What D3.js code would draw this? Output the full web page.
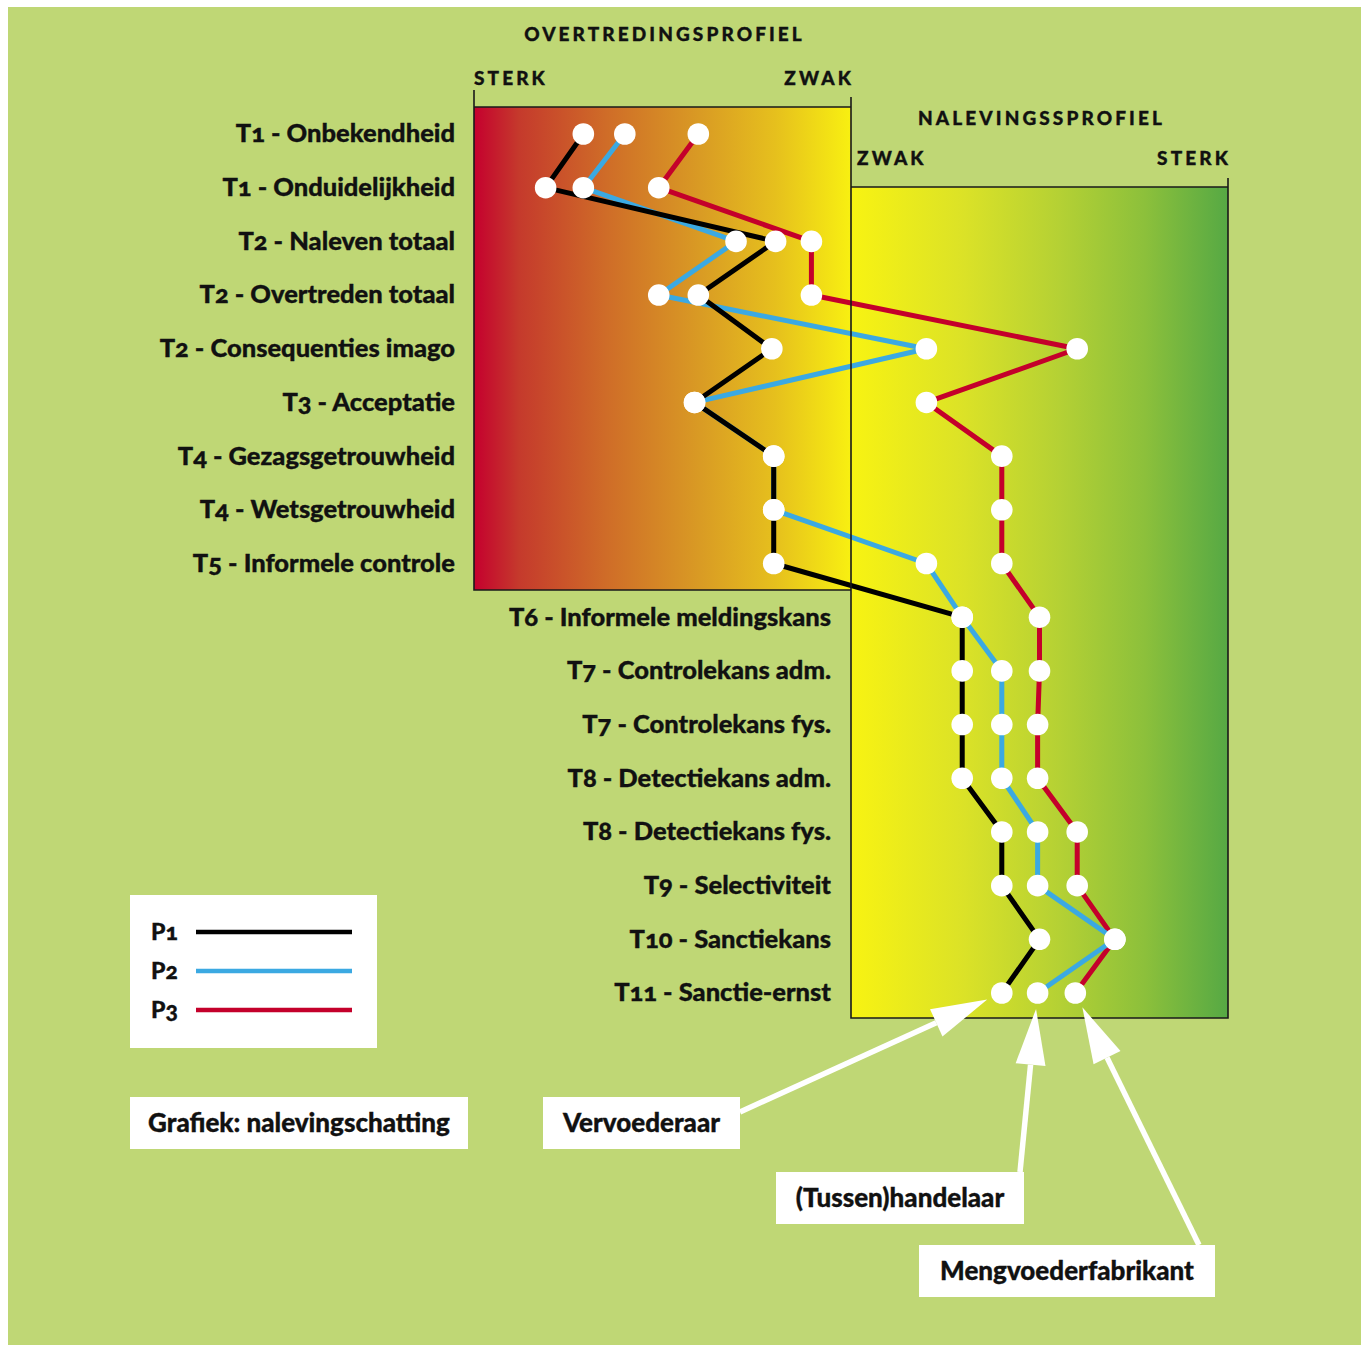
<!DOCTYPE html>
<html>
<head>
<meta charset="utf-8">
<script src="https://cdn.jsdelivr.net/npm/d3@7"></script>
<style>
  body { margin: 0; background: #fff; }
  text { font-family: Lato, "Open Sans", sans-serif; font-weight: 900; fill: #111; stroke: #111; stroke-width: 0.35px; font-variant-numeric: oldstyle-nums; }
</style>
</head>
<body>
<div id="chart"></div>
<script>
// rows of the profile, top to bottom
const rowLabels = [
  "T1 - Onbekendheid", "T1 - Onduidelijkheid", "T2 - Naleven totaal", "T2 - Overtreden totaal",
  "T2 - Consequenties imago", "T3 - Acceptatie", "T4 - Gezagsgetrouwheid", "T4 - Wetsgetrouwheid",
  "T5 - Informele controle", "T6 - Informele meldingskans", "T7 - Controlekans adm.",
  "T7 - Controlekans fys.", "T8 - Detectiekans adm.", "T8 - Detectiekans fys.",
  "T9 - Selectiviteit", "T10 - Sanctiekans", "T11 - Sanctie-ernst"
];
// first 9 rows sit in the overtredingsprofiel, the rest in the nalevingsprofiel
const leftRowCount = 9;

// scores on a 0-20 scale (0 = sterk overtreden ... 20 = sterk naleven)
const p1Values = [2.9, 1.9, 8.0, 5.95, 7.9, 5.85, 7.95, 7.95, 7.95, 12.95, 12.95, 12.95, 12.95, 14.0, 14.0, 15.0, 14.0];
const p2Values = [4.0, 2.9, 6.95, 4.9, 12.0, 5.85, 7.95, 7.95, 12.0, 12.95, 14.0, 14.0, 14.0, 14.95, 14.95, 17.0, 14.95];
const p3Values = [5.95, 4.9, 8.95, 8.95, 16.0, 12.0, 14.0, 14.0, 14.0, 15.0, 15.0, 14.95, 14.95, 16.0, 16.0, 17.0, 15.95];

const seriesNames = ["P1", "P2", "P3"];
const annotationLabels = ["Vervoederaar", "(Tussen)handelaar", "Mengvoederfabrikant"];

const colors = ["#000000", "#3ba9e2", "#c4002b"];

const W = 1361, H = 1345;
const svg = d3.select('#chart').append('svg')
  .attr('width', W)
  .attr('height', H);

const defs = svg.append('defs');
const gradLeft = defs.append('linearGradient').attr('id', 'gradLeft');
[["0%", "#c5002e"], ["12%", "#c53a2c"], ["35%", "#cf6c28"], ["60%", "#d99b24"], ["80%", "#e6c01d"], ["100%", "#f8f011"]]
  .forEach(s => gradLeft.append('stop').attr('offset', s[0]).attr('stop-color', s[1]));
const gradRight = defs.append('linearGradient').attr('id', 'gradRight');
[["0%", "#f8f312"], ["30%", "#dbe227"], ["55%", "#b5d134"], ["78%", "#8cc03b"], ["100%", "#56a944"]]
  .forEach(s => gradRight.append('stop').attr('offset', s[0]).attr('stop-color', s[1]));

// background
svg.append('rect')
  .attr('x', 8).attr('y', 7)
  .attr('width', W - 8).attr('height', H - 7)
  .attr('fill', '#bfd775');

const x = d3.scaleLinear().domain([0, 20]).range([474, 1228]);
const y = d3.scalePoint().domain(rowLabels).range([134, 993]);

const xMid = x(10);
const leftTop = 107, leftBottom = 590;
const rightTop = 187, rightBottom = 1018;

// gradient boxes
svg.append('rect')
  .attr('x', x(0)).attr('y', leftTop)
  .attr('width', xMid - x(0)).attr('height', leftBottom - leftTop)
  .attr('fill', 'url(#gradLeft)');
svg.append('rect')
  .attr('x', xMid).attr('y', rightTop)
  .attr('width', x(20) - xMid).attr('height', rightBottom - rightTop)
  .attr('fill', 'url(#gradRight)');

// lines
const series = [p1Values, p2Values, p3Values];
const line = d3.line()
  .x((d, i) => x(d))
  .y((d, i) => y(rowLabels[i]));

// draw P3 first so black ends on top
[2, 1, 0].forEach(s => {
  svg.append('path')
    .attr('d', line(series[s]))
    .attr('fill', 'none')
    .attr('stroke', colors[s])
    .attr('stroke-width', 5)
    .attr('stroke-linejoin', 'round');
});

// frame lines
const frame = svg.append('g')
  .attr('stroke', '#1a1a1a')
  .attr('stroke-width', 1.6)
  .attr('fill', 'none');
frame.append('path')
  .attr('d', `M${x(0)},90 V${leftBottom} H${xMid} M${x(0)},${leftTop} H${xMid} M${xMid},97 V${rightBottom} H${x(20)} V178 M${xMid},${rightTop} H${x(20)}`);

// dots
series.forEach((vals, s) => {
  svg.selectAll(null)
    .data(vals)
    .join('circle')
    .attr('cx', d => x(d))
    .attr('cy', (d, i) => y(rowLabels[i]))
    .attr('r', 10.8)
    .attr('fill', '#fff');
});

// row labels
svg.selectAll('.rowlabel')
  .data(rowLabels)
  .join('text')
  .attr('class', 'rowlabel')
  .attr('x', (d, i) => i < leftRowCount ? 455 : 831)
  .attr('y', d => y(d))
  .attr('dy', '0.33em')
  .attr('text-anchor', 'end')
  .style('font-size', '25.5px')
  .text(d => d);

// headings
const heading = (txt, xx, yy, anchor) => svg.append('text')
  .attr('x', xx).attr('y', yy)
  .attr('text-anchor', anchor)
  .style('font-size', '19px')
  .style('letter-spacing', '3.1px')
  .text(txt);
heading("OVERTREDINGSPROFIEL", (x(0) + xMid) / 2 + 2, 41, 'middle');
heading("STERK", x(0), 85, 'start');
heading("ZWAK", xMid + 3, 85, 'end');
heading("NALEVINGSSPROFIEL", (xMid + x(20)) / 2 + 2, 125, 'middle');
heading("ZWAK", xMid + 6, 165, 'start');
heading("STERK", x(20) + 3, 165, 'end');

// legend
svg.append('rect')
  .attr('x', 130).attr('y', 895)
  .attr('width', 247).attr('height', 153)
  .attr('fill', '#fff');
const legendY = d3.scalePoint().domain(seriesNames).range([932, 1010]);
seriesNames.forEach((name, s) => {
  svg.append('line')
    .attr('x1', 196).attr('x2', 352)
    .attr('y1', legendY(name)).attr('y2', legendY(name))
    .attr('stroke', colors[s])
    .attr('stroke-width', 4.5);
  svg.append('text')
    .attr('x', 151).attr('y', legendY(name))
    .attr('dy', '0.36em')
    .style('font-size', '23px')
    .text(name);
});

// caption box
svg.append('rect')
  .attr('x', 130).attr('y', 1097)
  .attr('width', 338).attr('height', 52)
  .attr('fill', '#fff');
svg.append('text')
  .attr('x', 299).attr('y', 1123)
  .attr('dy', '0.35em')
  .attr('text-anchor', 'middle')
  .style('font-size', '26px')
  .text("Grafiek: nalevingschatting");

// annotation boxes with arrows pointing to the last row's dots
const boxes = [
  {x: 543, y: 1097, w: 197, h: 52, ax: 740, ay: 1112},
  {x: 776, y: 1172, w: 248, h: 52, ax: 1020, ay: 1172},
  {x: 919, y: 1245, w: 296, h: 52, ax: 1199, ay: 1245}
];
const lastRow = rowLabels[rowLabels.length - 1];
boxes.forEach((b, s) => {
  const cx = x(series[s][series[s].length - 1]);
  const cy = y(lastRow);
  const dx = b.ax - cx, dy = b.ay - cy;
  const len = Math.hypot(dx, dy);
  const ux = dx / len, uy = dy / len;
  const tipX = cx + ux * 16, tipY = cy + uy * 16;
  const headLen = 56, headHalf = 15;
  const bx = tipX + ux * headLen, by = tipY + uy * headLen;
  svg.append('line')
    .attr('x1', b.ax).attr('y1', b.ay)
    .attr('x2', bx).attr('y2', by)
    .attr('stroke', '#fff')
    .attr('stroke-width', 5.5);
  svg.append('polygon')
    .attr('points', [
      [tipX, tipY],
      [bx - uy * headHalf, by + ux * headHalf],
      [bx + uy * headHalf, by - ux * headHalf]
    ].map(p => p.join(',')).join(' '))
    .attr('fill', '#fff');
  svg.append('rect')
    .attr('x', b.x).attr('y', b.y)
    .attr('width', b.w).attr('height', b.h)
    .attr('fill', '#fff');
  svg.append('text')
    .attr('x', b.x + b.w / 2).attr('y', b.y + b.h / 2)
    .attr('dy', '0.35em')
    .attr('text-anchor', 'middle')
    .style('font-size', '26px')
    .text(annotationLabels[s]);
});
</script>
</body>
</html>
